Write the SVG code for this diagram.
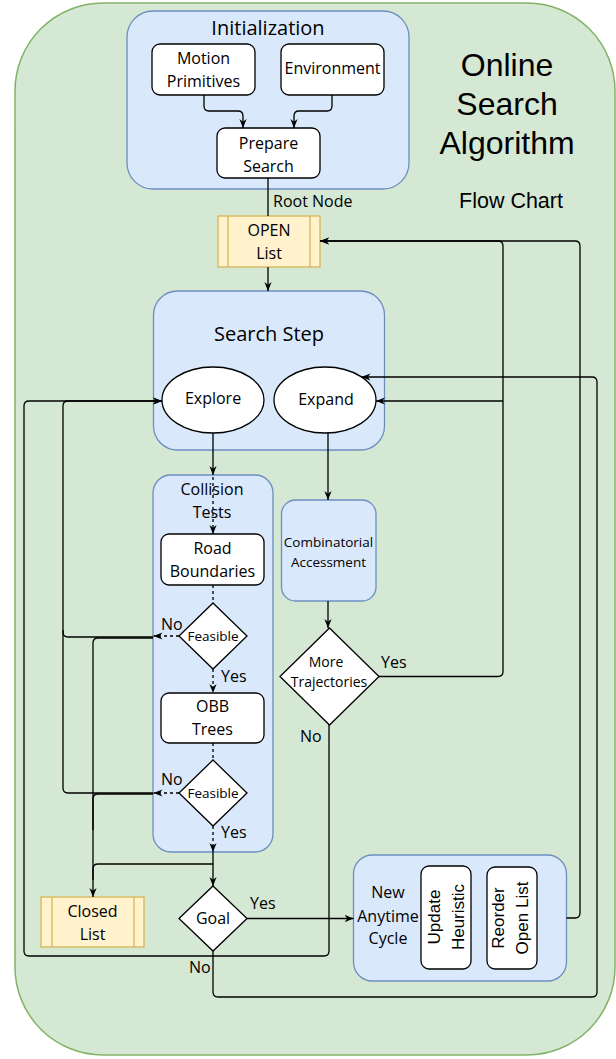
<svg xmlns="http://www.w3.org/2000/svg" width="616" height="1059" viewBox="0 0 616 1059">
<defs>
<style>
.bg{fill:#d5e8d4;stroke:#82b366;stroke-width:1.5}
.blue{fill:#dae8fc;stroke:#6c8ebf;stroke-width:1.3}
.white{fill:#ffffff;stroke:#000;stroke-width:1.3}
.yel{fill:#fff2cc;stroke:#d6b656;stroke-width:1.3}
.t{font-family:"Open Sans","Noto Sans",sans-serif;fill:#000;text-anchor:middle}
.ts{font-family:"Open Sans","Noto Sans",sans-serif;fill:#000}
.ta{font-family:"Liberation Sans",Arial,sans-serif;fill:#000;text-anchor:middle}
.c{fill:none;stroke:#000;stroke-width:1.3}
.d{stroke-dasharray:3 3}
.a{marker-end:url(#ah)}
</style>
<marker id="ah" viewBox="0 0 10 10" refX="10" refY="5" markerWidth="9" markerHeight="9" markerUnits="userSpaceOnUse" orient="auto">
<path d="M0,1 L10,5 L0,9 L3,5 z" fill="#000"/>
</marker>
</defs>

<g id="background">
<rect class="bg" x="15" y="3" width="600" height="1052" rx="88" ry="88"/>
<text class="ta" x="507" y="76" font-size="32">Online</text>
<text class="ta" x="507" y="115" font-size="32">Search</text>
<text class="ta" x="507" y="154" font-size="32">Algorithm</text>
<text class="ta" x="511" y="208" font-size="21.5">Flow Chart</text>
</g>

<g id="initialization">
<rect class="blue" x="127" y="11" width="282" height="178" rx="26" ry="26"/>
<text class="t" x="268" y="35" font-size="20">Initialization</text>
</g>
<g id="motion-primitives">
<rect class="white" x="152" y="44" width="103" height="51" rx="8" ry="8"/>
<text class="t" x="203.5" y="64" font-size="16">Motion</text>
<text class="t" x="203.5" y="87" font-size="16">Primitives</text>
</g>
<g id="environment">
<rect class="white" x="281" y="44" width="103" height="51" rx="8" ry="8"/>
<text class="t" x="332.5" y="74" font-size="16">Environment</text>
</g>
<g id="prepare-search">
<rect class="white" x="217" y="128" width="103" height="50" rx="8" ry="8"/>
<text class="t" x="268.5" y="149" font-size="16">Prepare</text>
<text class="t" x="268.5" y="172" font-size="16">Search</text>
</g>

<g id="open-list">
<rect class="yel" x="218" y="216" width="102" height="51"/>
<line class="yel" x1="228" y1="216" x2="228" y2="267"/>
<line class="yel" x1="310" y1="216" x2="310" y2="267"/>
<text class="t" x="269" y="236" font-size="16">OPEN</text>
<text class="t" x="269" y="259" font-size="16">List</text>
</g>

<g id="search-step">
<rect class="blue" x="153.5" y="291" width="231" height="159" rx="24" ry="24"/>
<text class="t" x="269" y="341" font-size="20">Search Step</text>
</g>
<g id="explore">
<ellipse class="white" cx="213" cy="400" rx="51" ry="33"/>
<text class="t" x="213" y="404" font-size="16">Explore</text>
</g>
<g id="expand">
<ellipse class="white" cx="325" cy="400" rx="51" ry="33"/>
<text class="t" x="326" y="405" font-size="16">Expand</text>
</g>

<g id="collision-tests">
<rect class="blue" x="153" y="475" width="120" height="377" rx="18" ry="18"/>
<text class="t" x="212" y="495" font-size="16">Collision</text>
<text class="t" x="212" y="518" font-size="16">Tests</text>
</g>
<g id="road-boundaries">
<rect class="white" x="161" y="534" width="103" height="51" rx="8" ry="8"/>
<text class="t" x="212.5" y="554" font-size="16">Road</text>
<text class="t" x="212.5" y="577" font-size="16">Boundaries</text>
</g>
<g id="feasible-1">
<polygon class="white" points="213,603 247,636 213,669 179,636"/>
<text class="t" x="213" y="641" font-size="13.5">Feasible</text>
</g>
<g id="obb-trees">
<rect class="white" x="161" y="693" width="103" height="50" rx="8" ry="8"/>
<text class="t" x="212.5" y="712" font-size="16">OBB</text>
<text class="t" x="212.5" y="735" font-size="16">Trees</text>
</g>
<g id="feasible-2">
<polygon class="white" points="213,760 247,793 213,826 179,793"/>
<text class="t" x="213" y="798" font-size="13.5">Feasible</text>
</g>

<g id="combinatorial-accessment">
<rect class="blue" x="281.5" y="500" width="94.5" height="101" rx="14" ry="14"/>
<text class="t" x="328.5" y="547" font-size="13.5">Combinatorial</text>
<text class="t" x="328.5" y="567" font-size="13.5">Accessment</text>
</g>
<g id="more-trajectories">
<polygon class="white" points="329.5,628 379,676.5 329.5,725 280,676.5"/>
<text class="t" x="326" y="667" font-size="14">More</text>
<text class="t" x="329" y="687" font-size="14">Trajectories</text>
</g>

<g id="closed-list">
<rect class="yel" x="41" y="897" width="103" height="50"/>
<line class="yel" x1="52" y1="897" x2="52" y2="947"/>
<line class="yel" x1="134" y1="897" x2="134" y2="947"/>
<text class="t" x="92.5" y="917" font-size="16">Closed</text>
<text class="t" x="92.5" y="940" font-size="16">List</text>
</g>
<g id="goal">
<polygon class="white" points="213,886 247,918.5 213,951 179,918.5"/>
<text class="t" x="213" y="924" font-size="16">Goal</text>
</g>

<g id="new-anytime-cycle">
<rect class="blue" x="353.5" y="855" width="213" height="126" rx="19" ry="19"/>
<text class="t" x="388" y="898" font-size="16">New</text>
<text class="t" x="388" y="922" font-size="16">Anytime</text>
<text class="t" x="388" y="944" font-size="16">Cycle</text>
</g>
<g id="update-heuristic">
<rect class="white" x="421" y="866" width="50" height="103" rx="8" ry="8"/>
<g transform="translate(446,917) rotate(-90)">
<text class="ta" x="0" y="-6" font-size="17">Update</text>
<text class="ta" x="0" y="18" font-size="17">Heuristic</text>
</g>
</g>
<g id="reorder-open-list">
<rect class="white" x="487" y="867" width="50" height="102" rx="8" ry="8"/>
<g transform="translate(512,918) rotate(-90)">
<text class="ta" x="0" y="-8" font-size="17">Reorder</text>
<text class="ta" x="0" y="16" font-size="17">Open List</text>
</g>
</g>

<g id="connectors">
<path class="c a" d="M204,95 V106 Q204,111 209,111 H238 Q243,111 243,116 V128"/>
<path class="c a" d="M332,95 V106 Q332,111 327,111 H299 Q294,111 294,116 V128"/>
<path class="c" d="M268,178 V216"/>
<path class="c a" d="M268,267 V291"/>
<path class="c a" d="M213,433 V475"/>
<path class="c a" d="M328,433 V500"/>
<path class="c d a" d="M213,477 V534"/>
<path class="c d" d="M213,585 V603"/>
<path class="c d a" d="M179,636 H153.5"/>
<path class="c a" d="M153,637 H68 Q63,637 63,632 V406 Q63,401 68,401 H162"/>
<path class="c a" d="M153,638 H98 Q93,638 93,643 V897"/>
<path class="c d a" d="M213,669 V693"/>
<path class="c d" d="M213,743 V760"/>
<path class="c d a" d="M179,793 H153.5"/>
<path class="c" d="M153,793 H68 Q63,793 63,788 V630"/>
<path class="c" d="M153,794 H98 Q93,794 93,799 V830"/>
<path class="c d a" d="M213,826 V852"/>
<path class="c a" d="M213,852 V886"/>
<path class="c" d="M213,864 H98 Q93,864 93,869 V880"/>
<path class="c a" d="M247,918.5 H353.5"/>
<path class="c a" d="M213,951 V992 Q213,997 218,997 H592 Q597,997 597,992 V382 Q597,377 592,377 H361.5"/>
<path class="c a" d="M328,601 V628"/>
<path class="c a" d="M379,676.5 H498 Q503,676.5 503,671.5 V246 Q503,241 498,241 H320"/>
<path class="c a" d="M503,401 H376"/>
<path class="c a" d="M329,725 V951 Q329,956 324,956 H29 Q24,956 24,951 V406 Q24,401 29,401 H162"/>
<path class="c a" d="M566.5,918 H575 Q580,918 580,913 V246 Q580,241 575,241 H320"/>
<text class="ts" x="273" y="207" font-size="16">Root Node</text>
<text class="ts" x="161" y="630" font-size="16">No</text>
<text class="ts" x="221" y="682" font-size="16">Yes</text>
<text class="ts" x="161" y="785" font-size="16">No</text>
<text class="ts" x="221" y="838" font-size="16">Yes</text>
<text class="ts" x="381" y="668" font-size="16">Yes</text>
<text class="ts" x="300" y="742" font-size="16">No</text>
<text class="ts" x="250" y="909" font-size="16">Yes</text>
<text class="ts" x="189" y="973" font-size="16">No</text>
</g>
</svg>
